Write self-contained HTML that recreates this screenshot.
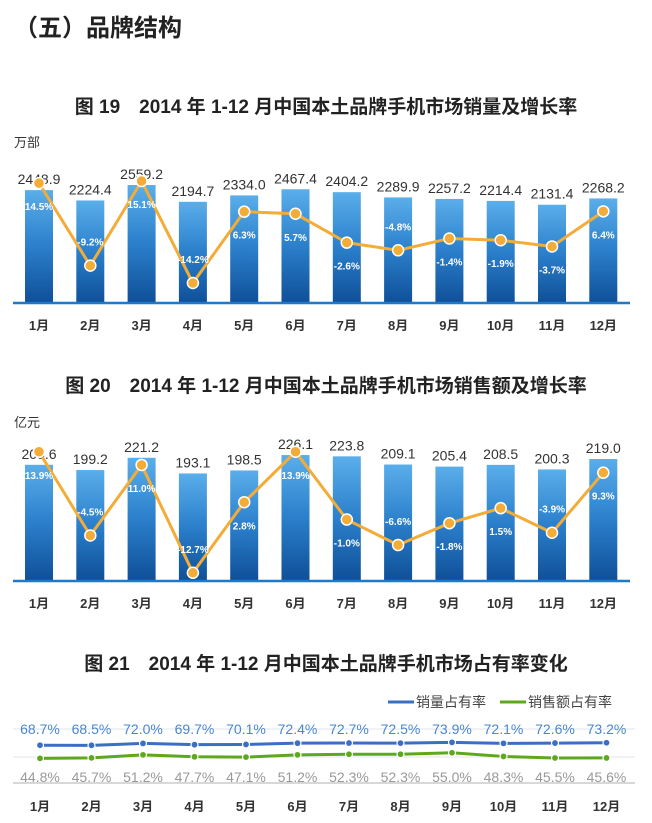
<!DOCTYPE html>
<html><head><meta charset="utf-8">
<style>
body{margin:0;background:#fff;width:652px;height:823px;overflow:hidden;font-family:"Liberation Sans","Noto Sans CJK SC",sans-serif;}
svg{display:block}
</style></head>
<body>
<svg id="s" width="652" height="823" xmlns="http://www.w3.org/2000/svg">
<defs>
<linearGradient id="bg" x1="0" y1="0" x2="0" y2="1"><stop offset="0" stop-color="#5aaeea"/><stop offset="0.5" stop-color="#2b7fcb"/><stop offset="1" stop-color="#0f4f98"/></linearGradient>
</defs>
<text x="14" y="36" font-size="24" font-weight="bold" fill="#222">（五）品牌结构</text>
<text x="326" y="113" text-anchor="middle" font-size="19" font-weight="bold" fill="#222">图 19　2014 年 1-12 月中国本土品牌手机市场销量及增长率</text>
<text x="14" y="147" font-size="13" fill="#333">万部</text>
<text x="326" y="392" text-anchor="middle" font-size="19" font-weight="bold" fill="#222">图 20　2014 年 1-12 月中国本土品牌手机市场销售额及增长率</text>
<text x="14" y="427" font-size="13" fill="#333">亿元</text>
<text x="326" y="670" text-anchor="middle" font-size="19" font-weight="bold" fill="#222">图 21　2014 年 1-12 月中国本土品牌手机市场占有率变化</text>
<g id="c1"></g>
<g id="c2"></g>
<g id="c3"></g>
</svg>
<script>
const months=["1月","2月","3月","4月","5月","6月","7月","8月","9月","10月","11月","12月"];
const salesVolume=[2448.9,2224.4,2559.2,2194.7,2334.0,2467.4,2404.2,2289.9,2257.2,2214.4,2131.4,2268.2];
const volumeGrowth=[14.5,-9.2,15.1,-14.2,6.3,5.7,-2.6,-4.8,-1.4,-1.9,-3.7,6.4];
const salesValue=[208.6,199.2,221.2,193.1,198.5,226.1,223.8,209.1,205.4,208.5,200.3,219.0];
const valueGrowth=[13.9,-4.5,11.0,-12.7,2.8,13.9,-1.0,-6.6,-1.8,1.5,-3.9,9.3];
const volumeShare=[68.7,68.5,72.0,69.7,70.1,72.4,72.7,72.5,73.9,72.1,72.6,73.2];
const valueShare=[44.8,45.7,51.2,47.7,47.1,51.2,52.3,52.3,55.0,48.3,45.5,45.6];

const NS="http://www.w3.org/2000/svg";
function mk(p,t,a,txt){const e=document.createElementNS(NS,t);for(const k in a)e.setAttribute(k,a[k]);if(txt!==undefined)e.textContent=txt;p.appendChild(e);return e;}

function barChart(gid,vals,growth,base,k,zeroY,gk,name){
  const g=document.getElementById(gid);
  const x=i=>39+i*51.3;
  const yv=v=>base-v*k;
  const yg=v=>zeroY-v*gk;
  vals.forEach((v,i)=>{
    const r=mk(g,"rect",{x:x(i)-14,y:yv(v),width:28,height:base-yv(v),fill:"url(#bg)"});
    
    
    const t=mk(g,"text",{x:x(i),y:yv(v)-6,"text-anchor":"middle","font-size":"14",fill:"#333"},v.toFixed(1));
    
    
    const m=mk(g,"text",{x:x(i),y:base+27,"text-anchor":"middle","font-size":"13","font-weight":"bold",fill:"#333"},months[i]);
    
    
  });
  const ax=mk(g,"line",{x1:13,x2:630,y1:base,y2:base,stroke:"#1f78c8","stroke-width":"2.5"});
  
  
  const pl=mk(g,"polyline",{points:growth.map((v,i)=>x(i)+","+yg(v)).join(" "),fill:"none",stroke:"#f2ac37","stroke-width":"3"});
  
  
  growth.forEach((v,i)=>{
    const c=mk(g,"circle",{cx:x(i),cy:yg(v),r:5.5,fill:"#f2ac37",stroke:"#fff","stroke-width":"1.5"});
    
    
    const py=yg(v);
    const ly=py<base-55?py+27:py-20;
    const t=mk(g,"text",{x:x(i),y:ly,"text-anchor":"middle","font-size":"10","font-weight":"bold",fill:"#fff"},v.toFixed(1)+"%");
    
    
  });
}
barChart("c1",salesVolume,volumeGrowth,303,0.0461,233.6,3.48,"volume");
barChart("c2",salesValue,valueGrowth,581,0.557,515,4.55,"value");

(function(){
  const g=document.getElementById("c3");
  const x=i=>40+i*51.5;
  const base=783,k=0.55;
  const y=v=>base-v*k;
  [729,757].forEach(yy=>{const l=mk(g,"line",{x1:13,x2:635,y1:yy,y2:yy,stroke:"#e2e6ee","stroke-width":"1"});
    
    });
  const ax=mk(g,"line",{x1:13,x2:635,y1:base,y2:base,stroke:"#ccc","stroke-width":"1.5"});
  
  
  [[volumeShare,"#3a6fc4","volume-share"],[valueShare,"#5ea81e","value-share"]].forEach(([d,col,nm])=>{
    const pl=mk(g,"polyline",{points:d.map((v,i)=>x(i)+","+y(v)).join(" "),fill:"none",stroke:col,"stroke-width":"3"});
    
    
    d.forEach((v,i)=>{
      const c=mk(g,"circle",{cx:x(i),cy:y(v),r:3.5,fill:col,stroke:"#fff","stroke-width":"1.2"});
      
      
    });
  });
  volumeShare.forEach((v,i)=>{
    const t=mk(g,"text",{x:x(i),y:734,"text-anchor":"middle","font-size":"14",fill:"#4a86d0"},v.toFixed(1)+"%");
    
    
  });
  valueShare.forEach((v,i)=>{
    const t=mk(g,"text",{x:x(i),y:782,"text-anchor":"middle","font-size":"14",fill:"#999"},v.toFixed(1)+"%");
    
    
    const m=mk(g,"text",{x:x(i),y:811,"text-anchor":"middle","font-size":"13","font-weight":"bold",fill:"#333"},months[i]);
    
    
  });
  const leg=[[418,"#3a6fc4","销量占有率"],[530,"#5ea81e","销售额占有率"]];
  leg.forEach(([lx,col,txt])=>{
    const l=mk(g,"line",{x1:lx-30,x2:lx-4,y1:702,y2:702,stroke:col,"stroke-width":"3"});
    
    
    const t=mk(g,"text",{x:lx-2,y:707,"font-size":"14",fill:"#444"},txt);
    
    
  });
})();
</script>
</body></html>
